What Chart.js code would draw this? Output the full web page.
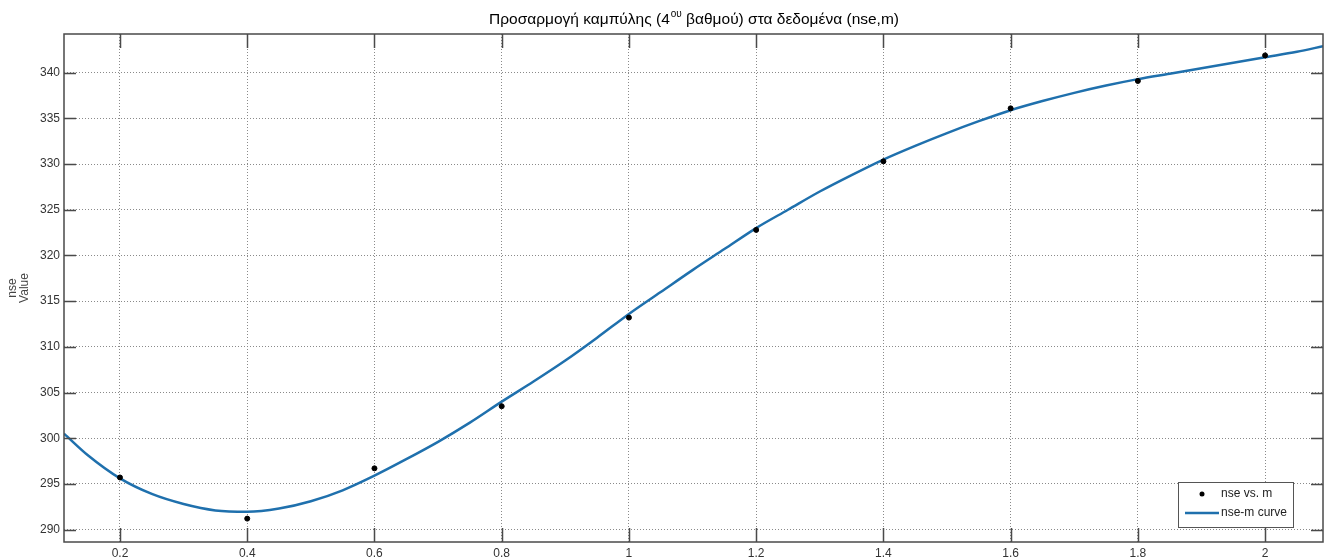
<!DOCTYPE html>
<html>
<head>
<meta charset="utf-8">
<script src="https://cdn.jsdelivr.net/npm/chart.js@4.4.1/dist/chart.umd.min.js"></script>
<style>
  html, body { margin: 0; padding: 0; background: #fff; }
  #wrap { width: 1329px; height: 560px; position: relative; }
</style>
</head>
<body>
<div id="wrap"><canvas id="chart"></canvas></div>
<script>
// measured points (m, nse)
const M_VALUES = [0.2, 0.4, 0.6, 0.8, 1.0, 1.2, 1.4, 1.6, 1.8, 2.0];
const NSE_VALUES = [295.7, 291.2, 296.7, 303.5, 313.2, 322.8, 330.3, 336.1, 339.1, 341.9];

// fitted curve
const CURVE_M = [0.112, 0.15, 0.2, 0.25, 0.3, 0.35, 0.4, 0.45, 0.5, 0.55, 0.6, 0.65, 0.7, 0.75,
  0.8, 0.85, 0.9, 0.95, 1.0, 1.05, 1.1, 1.15, 1.2, 1.25, 1.3, 1.35, 1.4, 1.45, 1.5, 1.55,
  1.6, 1.65, 1.7, 1.75, 1.8, 1.85, 1.9, 1.95, 2.0, 2.05, 2.091];
const CURVE_NSE = [300.5, 298.1, 295.6, 293.9, 292.8, 292.1, 291.95, 292.3, 293.1, 294.3, 295.9, 297.7, 299.6, 301.7,
  304.0, 306.2, 308.5, 311.0, 313.6, 316.0, 318.4, 320.7, 323.0, 325.0, 327.0, 328.8, 330.5, 332.0, 333.4, 334.7,
  335.9, 336.9, 337.8, 338.6, 339.3, 339.9, 340.5, 341.1, 341.7, 342.3, 342.9];

const X_TICKS = [0.2, 0.4, 0.6, 0.8, 1, 1.2, 1.4, 1.6, 1.8, 2];
const Y_TICKS = [290, 295, 300, 305, 310, 315, 320, 325, 330, 335, 340];

const TITLE_PARTS = ['Προσαρμογή καμπύλης (4', 'ου', ' βαθμού) στα δεδομένα (nse,m)'];
const LEGEND_LABELS = ['nse vs. m', 'nse-m curve'];

const FONT = '"Liberation Sans", Arial, sans-serif';
const CURVE_COLOR = '#1f70ad';

// frame, inward ticks (MATLAB style), title and legend
const matlabAxes = {
  id: 'matlabAxes',
  afterDraw(chart) {
    const {ctx, chartArea: a, scales} = chart;
    ctx.save();
    ctx.strokeStyle = '#4a4a4a';
    ctx.lineWidth = 1.5;
    ctx.strokeRect(a.left, a.top, a.right - a.left, a.bottom - a.top);

    ctx.lineWidth = 1.5;
    ctx.beginPath();
    X_TICKS.forEach(v => {
      const x = Math.round(scales.x.getPixelForValue(v)) + 0.5;
      ctx.moveTo(x, a.bottom); ctx.lineTo(x, a.bottom - 14);
      ctx.moveTo(x, a.top); ctx.lineTo(x, a.top + 14);
    });
    Y_TICKS.forEach(v => {
      const y = Math.round(scales.y.getPixelForValue(v)) + 0.5;
      ctx.moveTo(a.left, y); ctx.lineTo(a.left + 12, y);
      ctx.moveTo(a.right, y); ctx.lineTo(a.right - 12, y);
    });
    ctx.stroke();

    // title with superscript
    ctx.fillStyle = '#000';
    ctx.textBaseline = 'alphabetic';
    const big = '15.5px ' + FONT, small = '10px ' + FONT;
    ctx.font = big;
    const w0 = ctx.measureText(TITLE_PARTS[0]).width;
    const w2 = ctx.measureText(TITLE_PARTS[2]).width;
    ctx.font = small;
    const w1 = ctx.measureText(TITLE_PARTS[1]).width;
    let tx = (a.left + a.right) / 2 - (w0 + w1 + w2) / 2;
    const base = 24;
    ctx.font = big; ctx.textAlign = 'left';
    ctx.fillText(TITLE_PARTS[0], tx, base); tx += w0;
    ctx.font = small;
    ctx.fillText(TITLE_PARTS[1], tx + 1, base - 7); tx += w1 + 1;
    ctx.font = big;
    ctx.fillText(TITLE_PARTS[2], tx, base);

    // legend box
    const lx = 1178, ly = 482, lw = 115, lh = 45;
    ctx.fillStyle = '#fff';
    ctx.fillRect(lx, ly, lw, lh);
    ctx.strokeStyle = '#555';
    ctx.lineWidth = 1;
    ctx.strokeRect(lx + 0.5, ly + 0.5, lw, lh);
    ctx.fillStyle = '#000';
    ctx.beginPath();
    ctx.arc(lx + 24, ly + 12, 2.5, 0, Math.PI * 2);
    ctx.fill();
    ctx.strokeStyle = CURVE_COLOR;
    ctx.lineWidth = 2.5;
    ctx.beginPath();
    ctx.moveTo(lx + 7, ly + 31); ctx.lineTo(lx + 41, ly + 31);
    ctx.stroke();
    ctx.fillStyle = '#222';
    ctx.font = '12px ' + FONT;
    ctx.textBaseline = 'middle';
    ctx.fillText(LEGEND_LABELS[0], lx + 43, ly + 12);
    ctx.fillText(LEGEND_LABELS[1], lx + 43, ly + 31);
    ctx.restore();
  }
};

const fmt = v => String(+Number(v).toFixed(2));

new Chart(document.getElementById('chart'), {
  type: 'scatter',
  data: {
    datasets: [
      {
        label: LEGEND_LABELS[0],
        data: M_VALUES.map((m, i) => ({x: m, y: NSE_VALUES[i]})),
        backgroundColor: '#000',
        borderColor: '#000',
        pointRadius: 2.5,
        showLine: false,
        order: 1
      },
      {
        label: LEGEND_LABELS[1],
        data: CURVE_M.map((m, i) => ({x: m, y: CURVE_NSE[i]})),
        borderColor: CURVE_COLOR,
        borderWidth: 2.5,
        pointRadius: 0,
        showLine: true,
        cubicInterpolationMode: 'monotone',
        order: 2
      }
    ]
  },
  options: {
    responsive: true,
    maintainAspectRatio: false,
    animation: false,
    layout: { padding: { top: 34, right: 6, left: 0, bottom: 0 } },
    plugins: {
      legend: { display: false },
      title: { display: false },
      tooltip: { enabled: false }
    },
    scales: {
      x: {
        type: 'linear',
        min: 0.112,
        max: 2.091,
        afterBuildTicks: s => { s.ticks = X_TICKS.map(v => ({value: v})); },
        afterFit: s => { s.height = 18; },
        grid: { color: '#8a8a8a', lineWidth: 1, drawTicks: false },
        border: { display: false, dash: [1, 2] },
        ticks: { color: '#333', padding: 4, autoSkip: false, maxRotation: 0,
                 font: { family: FONT, size: 12 }, callback: fmt }
      },
      y: {
        min: 288.64,
        max: 344.24,
        afterBuildTicks: s => { s.ticks = Y_TICKS.map(v => ({value: v})); },
        afterFit: s => { s.width = 64; },
        grid: { color: '#8a8a8a', lineWidth: 1, drawTicks: false },
        border: { display: false, dash: [1, 2] },
        ticks: { color: '#333', padding: 4, autoSkip: false,
                 font: { family: FONT, size: 12 }, callback: fmt },
        title: {
          display: true,
          text: ['nse', 'Value'],
          color: '#444',
          padding: { top: 6, bottom: 0 },
          font: { family: FONT, size: 12, lineHeight: 1.05 }
        }
      }
    }
  },
  plugins: [matlabAxes]
});
</script>
</body>
</html>
